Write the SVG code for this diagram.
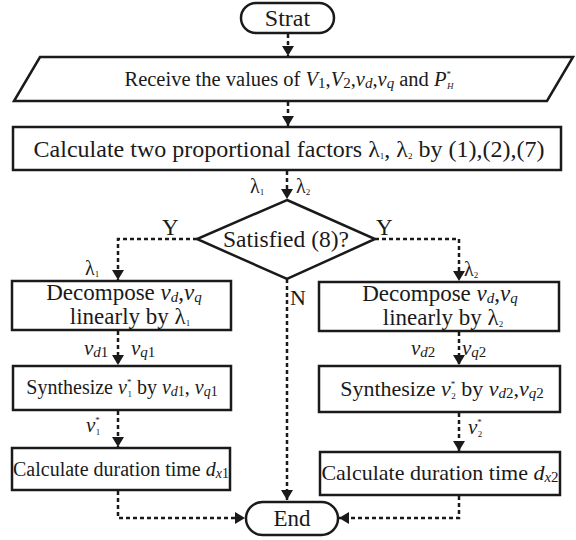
<svg xmlns="http://www.w3.org/2000/svg" width="576" height="540" viewBox="0 0 576 540">
<defs>
<style>
.t{font-family:'Liberation Serif',serif;font-size:21px;fill:#1a1a1a}
.l{font-family:'Liberation Serif',serif;font-size:20px;fill:#1a1a1a}
.i{font-style:italic}
.s{font-size:9px}
.box{fill:#fff;stroke:#1a1a1a;stroke-width:2.5}
.dash{fill:none;stroke:#1a1a1a;stroke-width:2.5;stroke-dasharray:4 3}
</style>
<marker id="ah" markerUnits="userSpaceOnUse" viewBox="0 0 10 12" refX="10" refY="6" markerWidth="10" markerHeight="12" orient="auto">
<path d="M0,0 L10,6 L0,12 z" fill="#1a1a1a"/>
</marker>
</defs>
<rect width="576" height="540" fill="#fff"/>

<g id="connectors">
<line class="dash" x1="288" y1="34" x2="288" y2="56" marker-end="url(#ah)"/>
<line class="dash" x1="288" y1="102" x2="288" y2="126" marker-end="url(#ah)"/>
<line class="dash" x1="287" y1="171" x2="287" y2="199" marker-end="url(#ah)"/>
<polyline class="dash" points="197,239 118,239 118,280" marker-end="url(#ah)"/>
<polyline class="dash" points="375,239 459,239 459,281" marker-end="url(#ah)"/>
<line class="dash" x1="118" y1="331" x2="118" y2="365" marker-end="url(#ah)"/>
<line class="dash" x1="118" y1="411" x2="118" y2="447" marker-end="url(#ah)"/>
<line class="dash" x1="459" y1="332" x2="459" y2="365" marker-end="url(#ah)"/>
<line class="dash" x1="459" y1="413" x2="459" y2="451" marker-end="url(#ah)"/>
<line class="dash" x1="287" y1="279" x2="287" y2="500" marker-end="url(#ah)"/>
<polyline class="dash" points="118,491 118,518 245,518" marker-end="url(#ah)"/>
<polyline class="dash" points="459,496 459,518 339,518" marker-end="url(#ah)"/>
<text class="l" x="250" y="193">λ<tspan class="s" dy="2">1</tspan></text>
<text class="l" x="296" y="193">λ<tspan class="s" dy="2">2</tspan></text>
<text class="t" x="162" y="235" style="font-size:23px">Y</text>
<text class="t" x="376" y="235" style="font-size:23px">Y</text>
<text class="t" x="290" y="305" style="font-size:22px">N</text>
<text class="l" x="85" y="275">λ<tspan class="s" dy="2">1</tspan></text>
<text class="l" x="464" y="276">λ<tspan class="s" dy="2">2</tspan></text>
<text class="t" x="84" y="355"><tspan class="i">v</tspan><tspan class="i" font-size="15" dy="2">d</tspan><tspan font-size="15">1</tspan></text>
<text class="t" x="131" y="355"><tspan class="i">v</tspan><tspan class="i" font-size="15" dy="2">q</tspan><tspan font-size="15">1</tspan></text>
<text class="t" x="411" y="355"><tspan class="i">v</tspan><tspan class="i" font-size="15" dy="2">d</tspan><tspan font-size="15">2</tspan></text>
<text class="t" x="462" y="355"><tspan class="i">v</tspan><tspan class="i" font-size="15" dy="2">q</tspan><tspan font-size="15">2</tspan></text>
<text class="t" x="86" y="432"><tspan class="i">v</tspan><tspan class="s" dy="-9">*</tspan><tspan class="s" dx="-4" dy="12">1</tspan></text>
<text class="t" x="468" y="434"><tspan class="i">v</tspan><tspan class="s" dy="-9">*</tspan><tspan class="s" dx="-4" dy="12">2</tspan></text>
</g>

<g id="start">
<rect class="box" x="241" y="3" width="93" height="30" rx="15"/>
<text class="t" x="287.5" y="26" text-anchor="middle" style="font-size:24px">Strat</text>
</g>

<g id="receive">
<polygon class="box" points="40,57 573,57 547,101 14,101"/>
<text class="t" x="289" y="86" text-anchor="middle" style="font-size:20.5px">Receive the values of <tspan class="i">V</tspan><tspan font-size="15" dy="2">1</tspan><tspan dy="-2">,</tspan><tspan class="i">V</tspan><tspan font-size="15" dy="2">2</tspan><tspan dy="-2">,</tspan><tspan class="i">v</tspan><tspan class="i" font-size="15" dy="2">d</tspan><tspan dy="-2">,</tspan><tspan class="i">v</tspan><tspan class="i" font-size="15" dy="2">q</tspan><tspan dy="-2"> and </tspan><tspan class="i">P</tspan><tspan class="s" dy="-9">*</tspan><tspan class="s i" dx="-4" dy="12">H</tspan></text>
</g>

<g id="calc">
<rect class="box" x="13" y="127" width="548" height="43"/>
<text class="t" x="289" y="157" text-anchor="middle" style="font-size:24px">Calculate two proportional factors λ<tspan class="s" dy="2">1</tspan><tspan dy="-2">, λ</tspan><tspan class="s" dy="2">2</tspan><tspan dy="-2"> by (1),(2),(7)</tspan></text>
</g>

<g id="decision">
<polygon class="box" points="287,200 375,239 287,279 197,239"/>
<text class="t" x="286" y="247" text-anchor="middle" style="font-size:23.5px">Satisfied (8)?</text>
</g>

<g id="decomp1">
<rect class="box" x="12" y="281" width="219" height="49"/>
<text class="t" text-anchor="middle" style="font-size:23px"><tspan x="124" y="300">Decompose <tspan class="i">v</tspan><tspan class="i" font-size="15" dy="2">d</tspan><tspan dy="-2">,</tspan><tspan class="i">v</tspan><tspan class="i" font-size="15" dy="2">q</tspan></tspan><tspan x="130" y="324">linearly by λ<tspan class="s" dy="2">1</tspan></tspan></text>
</g>

<g id="synth1">
<rect class="box" x="13" y="366" width="218" height="44"/>
<text class="t" x="122" y="394" text-anchor="middle" style="font-size:20px">Synthesize <tspan class="i">v</tspan><tspan class="s" dy="-9">*</tspan><tspan class="s" dx="-4" dy="12">1</tspan><tspan dy="-3"> by </tspan><tspan class="i">v</tspan><tspan class="i" font-size="14" dy="2">d</tspan><tspan font-size="14">1</tspan><tspan dy="-2">, </tspan><tspan class="i">v</tspan><tspan class="i" font-size="14" dy="2">q</tspan><tspan font-size="14">1</tspan></text>
</g>

<g id="dur1">
<rect class="box" x="12" y="448" width="218" height="42"/>
<text class="t" x="121" y="476" text-anchor="middle" style="font-size:20px">Calculate duration time <tspan class="i">d</tspan><tspan class="i" font-size="14" dy="2">x</tspan><tspan font-size="14">1</tspan></text>
</g>

<g id="decomp2">
<rect class="box" x="319" y="282" width="240" height="49"/>
<text class="t" text-anchor="middle" style="font-size:23px"><tspan x="440" y="301">Decompose <tspan class="i">v</tspan><tspan class="i" font-size="15" dy="2">d</tspan><tspan dy="-2">,</tspan><tspan class="i">v</tspan><tspan class="i" font-size="15" dy="2">q</tspan></tspan><tspan x="443" y="325">linearly by λ<tspan class="s" dy="2">2</tspan></tspan></text>
</g>

<g id="synth2">
<rect class="box" x="319" y="366" width="241" height="46"/>
<text class="t" x="442" y="396" text-anchor="middle" style="font-size:22px">Synthesize <tspan class="i">v</tspan><tspan class="s" dy="-9">*</tspan><tspan class="s" dx="-4" dy="12">2</tspan><tspan dy="-3"> by </tspan><tspan class="i">v</tspan><tspan class="i" font-size="15" dy="2">d</tspan><tspan font-size="15">2</tspan><tspan dy="-2">,</tspan><tspan class="i">v</tspan><tspan class="i" font-size="15" dy="2">q</tspan><tspan font-size="15">2</tspan></text>
</g>

<g id="dur2">
<rect class="box" x="320" y="452" width="240" height="43"/>
<text class="t" x="440" y="480" text-anchor="middle" style="font-size:22px">Calculate duration time <tspan class="i">d</tspan><tspan class="i" font-size="15" dy="2">x</tspan><tspan font-size="15">2</tspan></text>
</g>

<g id="end">
<rect class="box" x="246" y="502" width="92" height="33" rx="16.5"/>
<text class="t" x="292" y="526" text-anchor="middle" style="font-size:23px">End</text>
</g>
</svg>
